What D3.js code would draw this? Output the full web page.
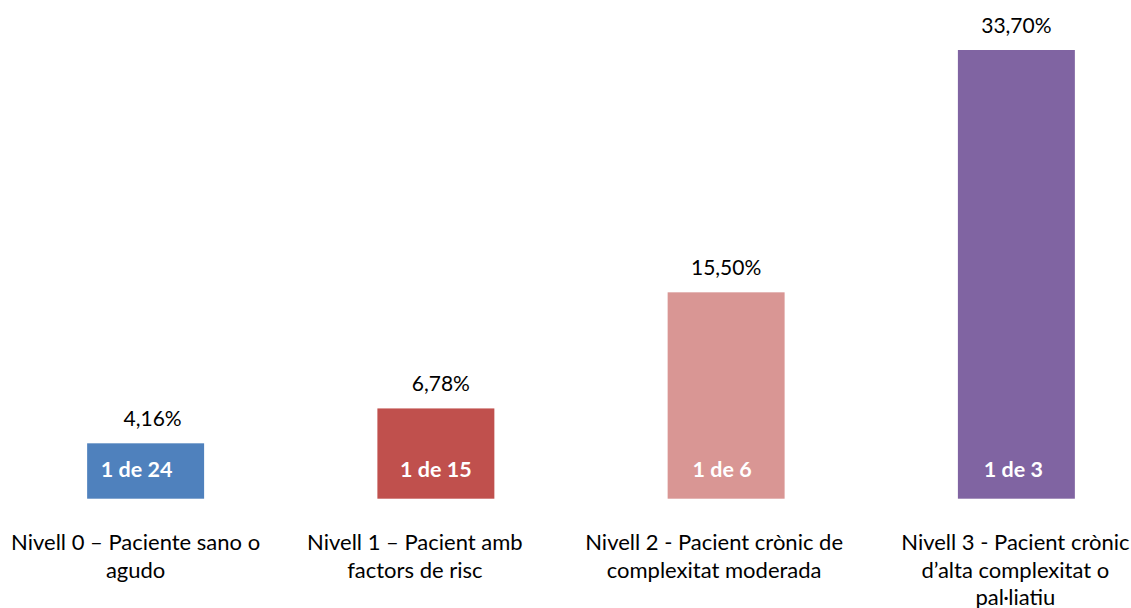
<!DOCTYPE html>
<html>
<head>
<meta charset="utf-8">
<script src="https://cdn.jsdelivr.net/npm/d3@7"></script>
<style>
    html, body { margin: 0; padding: 0; background: #fff; }
    svg text { font-family: Lato, "Open Sans", sans-serif; }
</style>
</head>
<body>
<svg id="chart" width="1131" height="608"></svg>
<script>
// Data
const categories = ['n0', 'n1', 'n2', 'n3'];
const categoryLines = [
    ['Nivell 0 – Paciente sano o', 'agudo'],
    ['Nivell 1 – Pacient amb', 'factors de risc'],
    ['Nivell 2 - Pacient crònic de', 'complexitat moderada'],
    ['Nivell 3 - Pacient crònic', 'd’alta complexitat o', 'pal·liatiu']
];
const values = [4.16, 6.78, 15.50, 33.70];
const valueLabels = ['4,16%', '6,78%', '15,50%', '33,70%'];
const ratioLabels = ['1 de 24', '1 de 15', '1 de 6', '1 de 3'];
const colors = ['#4F81BD', '#C0504D', '#D99694', '#8064A2'];

// Label nudges (the source text boxes are not quite centred)
const valueShift = [7, 5, 0, 0];
const ratioShift = [-9, 0, -4, -3];
const catShift = [-10, -21, -12, -1];

const svg = d3.select('#chart');

// Scales
const x = d3.scaleBand()
    .domain(categories)
    .range([0.5, 1161.5])
    .paddingInner(0.597)
    .paddingOuter(0.2985);
const y = d3.scaleLinear()
    .domain([0, 33.70])
    .range([498.7, 50]);

const g = svg.append('g');

// Bars
g.selectAll('rect.bar')
    .data(values)
    .join('rect')
    .attr('class', 'bar')
    .attr('x', (d, i) => x(categories[i]))
    .attr('y', d => y(d))
    .attr('width', x.bandwidth())
    .attr('height', d => y(0) - y(d))
    .attr('fill', (d, i) => colors[i]);

// Value labels
g.selectAll('text.val')
    .data(values)
    .join('text')
    .attr('class', 'val')
    .attr('x', (d, i) => x(categories[i]) + x.bandwidth() / 2 + valueShift[i])
    .attr('y', d => y(d) - 17)
    .attr('text-anchor', 'middle')
    .attr('font-size', 21)
    .attr('fill', '#000')
    .text((d, i) => valueLabels[i]);

// Ratio labels inside bars
g.selectAll('text.ratio')
    .data(ratioLabels)
    .join('text')
    .attr('class', 'ratio')
    .attr('x', (d, i) => x(categories[i]) + x.bandwidth() / 2 + ratioShift[i])
    .attr('y', 477)
    .attr('text-anchor', 'middle')
    .attr('font-size', 21.5)
    .attr('font-weight', 'bold')
    .attr('fill', '#fff')
    .text(d => d);

// Category labels
const cat = g.selectAll('text.cat')
    .data(categoryLines)
    .join('text')
    .attr('class', 'cat')
    .attr('text-anchor', 'middle')
    .attr('font-size', 22)
    .attr('fill', '#000');
cat.each(function(lines, i) {
    const t = d3.select(this);
    const cx = x(categories[i]) + x.bandwidth() / 2 + catShift[i];
    lines.forEach((line, j) => {
        t.append('tspan')
            .attr('x', cx)
            .attr('y', 550 + j * 27.5)
            .text(line);
    });
});
</script>
</body>
</html>
